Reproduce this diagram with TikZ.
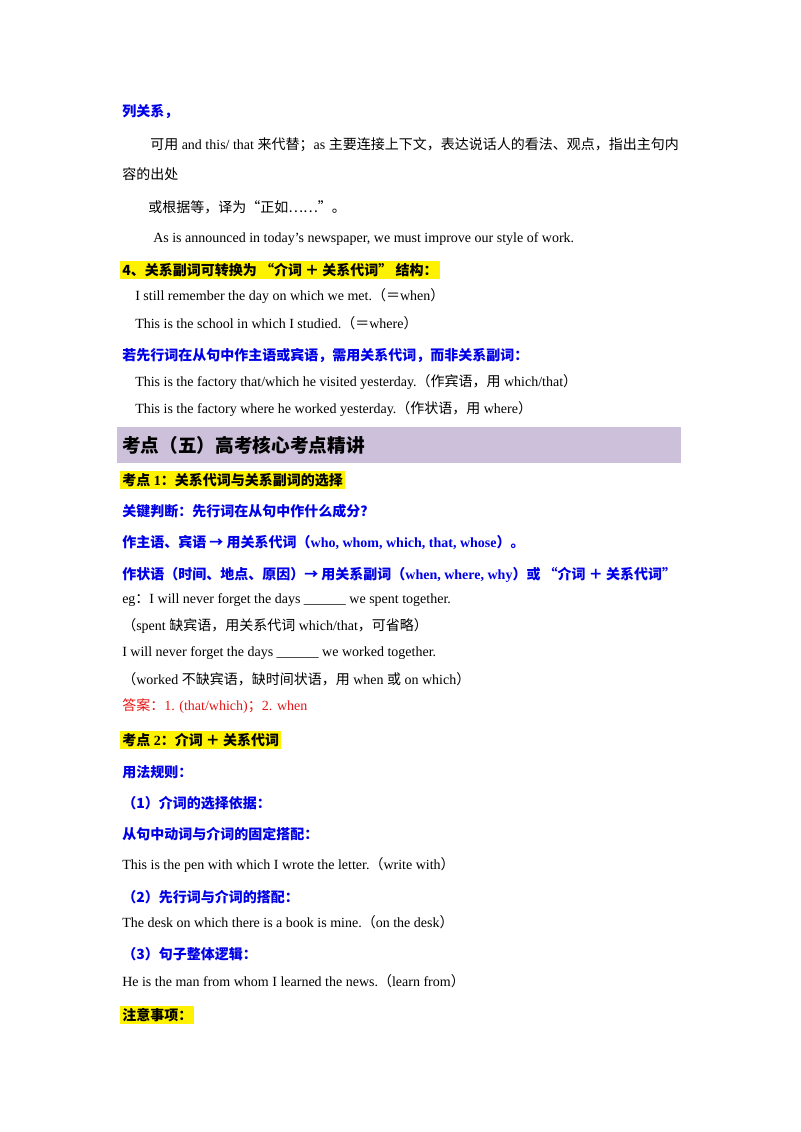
\documentclass[tikz,border=0pt]{standalone}
\usepackage{fontspec}
\setmainfont{Liberation Serif}
\newfontfamily\cjk{Noto Sans CJK SC}
\newcommand{\zh}[1]{{\cjk #1}}
\definecolor{hblue}{RGB}{0,0,230}
\definecolor{hred}{RGB}{230,20,20}
\definecolor{hpurple}{RGB}{204,192,218}
\begin{document}
\begin{tikzpicture}[x=0.75pt,y=-0.75pt,
  t/.style={anchor=west,inner sep=0pt,font=\fontsize{10.5pt}{12pt}\selectfont},
  b/.style={t,text=hblue,font=\fontsize{10.5pt}{12pt}\selectfont\bfseries},
  hl/.style={t,fill=yellow,inner sep=1.5pt,font=\fontsize{10.5pt}{12pt}\selectfont\bfseries}]
\useasboundingbox (0,0) rectangle (800,1132);
\node[b] (l1) at (122,112) {\zh{列关系，}};
\node[t] (l2) at (150,145) {\zh{可用} and this/ that \zh{来代替；}as \zh{主要连接上下文，表达说话人的看法、观点，指出主句内}};
\node[t] (l3) at (122,174) {\zh{容的出处}};
\node[t] (l4) at (148,207) {\zh{或根据等，译为“正如……”。}};
\node[t] (l5) at (153,239) {As is announced in today’s newspaper, we must improve our style of work.};
\node[hl] (l6) at (120,270) {\zh{4、关系副词可转换为 “介词 ＋ 关系代词” 结构：}};
\node[t] (l7) at (135,296) {I still remember the day on which we met.\zh{（＝}when\zh{）}};
\node[t] (l8) at (135,323) {This is the school in which I studied.\zh{（＝}where\zh{）}};
\node[b] (l9) at (122,356) {\zh{若先行词在从句中作主语或宾语，需用关系代词，而非关系副词：}};
\node[t] (l10) at (135,382) {This is the factory that/which he visited yesterday.\zh{（作宾语，用} which/that\zh{）}};
\node[t] (l11) at (135,409) {This is the factory where he worked yesterday.\zh{（作状语，用} where\zh{）}};
\fill[hpurple] (117,427) rectangle (681,463);
\node[t,font=\fontsize{14pt}{16pt}\selectfont\bfseries] (h) at (122,445) {\zh{考点（五）高考核心考点精讲}};
\node[hl] (k1) at (120,480) {\zh{考点} 1\zh{：关系代词与关系副词的选择}};
\node[b] (a1) at (122,511) {\zh{关键判断：先行词在从句中作什么成分？}};
\node[b] (a2) at (122,543) {\zh{作主语、宾语 → 用关系代词（}who, whom, which, that, whose\zh{）。}};
\node[b] (a3) at (122,575) {\zh{作状语（时间、地点、原因）→ 用关系副词（}when, where, why\zh{）或 “介词 ＋ 关系代词”}};
\node[t] (e1) at (122,600) {eg\zh{：}I will never forget the days \_\_\_\_\_\_ we spent together.};
\node[t] (e2) at (122,626) {\zh{（}spent \zh{缺宾语，用关系代词} which/that\zh{，可省略）}};
\node[t] (e3) at (122,653) {I will never forget the days \_\_\_\_\_\_ we worked together.};
\node[t] (e4) at (122,679) {\zh{（}worked \zh{不缺宾语，缺时间状语，用} when \zh{或} on which\zh{）}};
\node[t,text=hred] (e5) at (122,706) {\zh{答案：}1. (that/which)\zh{；}2. when};
\node[hl] (k2) at (120,740) {\zh{考点} 2\zh{：介词 ＋ 关系代词}};
\node[b] (r1) at (122,772) {\zh{用法规则：}};
\node[b] (r2) at (122,803) {\zh{（1）介词的选择依据：}};
\node[b] (r3) at (122,834) {\zh{从句中动词与介词的固定搭配：}};
\node[t] (r4) at (122,865) {This is the pen with which I wrote the letter.\zh{（}write with\zh{）}};
\node[b] (r5) at (122,897) {\zh{（2）先行词与介词的搭配：}};
\node[t] (r6) at (122,922) {The desk on which there is a book is mine.\zh{（}on the desk\zh{）}};
\node[b] (r7) at (122,954) {\zh{（3）句子整体逻辑：}};
\node[t] (r8) at (122,981) {He is the man from whom I learned the news.\zh{（}learn from\zh{）}};
\node[hl] (k3) at (120,1015) {\zh{注意事项：}};
\end{tikzpicture}
\end{document}
